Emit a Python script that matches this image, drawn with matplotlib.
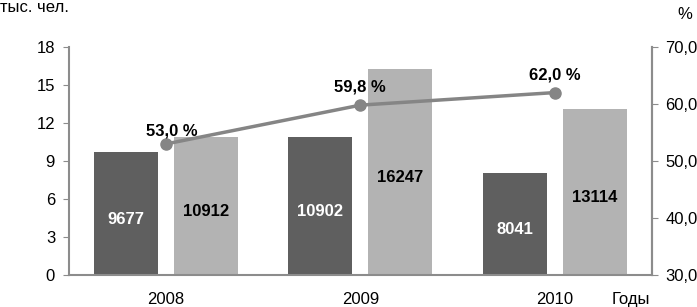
import matplotlib
matplotlib.use("Agg")
import matplotlib.pyplot as plt
import numpy as np

plt.rcParams['font.family'] = ['Liberation Sans', 'DejaVu Sans']

years = ["2008", "2009", "2010"]
series_dark = [9677, 10902, 8041]
series_light = [10912, 16247, 13114]
percent = [53.0, 59.8, 62.0]
percent_labels = ["53,0 %", "59,8 %", "62,0 %"]
left_ticks = [0, 3, 6, 9, 12, 15, 18]
right_ticks = [30, 40, 50, 60, 70]
right_tick_labels = ["30,0", "40,0", "50,0", "60,0", "70,0"]

dark = "#5f5f5f"
light = "#b3b3b3"
axis_col = "#8c8c8c"
line_col = "#858585"

fig = plt.figure(figsize=(6.97, 3.07), dpi=100)
ax = fig.add_axes([0.099, 0.104, 0.836, 0.743])
x = np.arange(len(years))
w = 0.33
off = 0.206
dv = np.array(series_dark) / 1000.0
lv = np.array(series_light) / 1000.0
ax.bar(x - off, dv, w, color=dark, zorder=2)
ax.bar(x + off, lv, w, color=light, zorder=2)
for xi, v, s in zip(x, dv, series_dark):
    ax.text(xi - off, v / 2 - 0.45, str(s), ha='center', va='center', color='white',
            fontsize=12, fontweight='bold', zorder=5)
for xi, v, s in zip(x, lv, series_light):
    ax.text(xi + off, v / 2 - 0.45, str(s), ha='center', va='center', color='black',
            fontsize=12, fontweight='bold', zorder=5)

ax.set_xlim(-0.5, 2.5)
ax.set_ylim(0, 18)
ax.set_yticks(left_ticks)
ax.set_yticklabels([str(t) for t in left_ticks], fontsize=12)
ax.set_xticks(x)
ax.set_xticklabels(years, fontsize=12)
ax.tick_params(axis='x', length=0, pad=12)
ax.tick_params(axis='y', length=4, color=axis_col, pad=6)
for s in ['top']:
    ax.spines[s].set_visible(False)
for s in ['left', 'bottom', 'right']:
    ax.spines[s].set_color(axis_col)
    ax.spines[s].set_linewidth(1.5)

ax2 = ax.twinx()
ax2.set_ylim(30, 70)
ax2.set_yticks(right_ticks)
ax2.set_yticklabels(right_tick_labels, fontsize=12)
ax2.tick_params(axis='y', length=4, color=axis_col, pad=6)
for s in ['top', 'left', 'bottom']:
    ax2.spines[s].set_visible(False)
ax2.spines['right'].set_color(axis_col)
ax2.spines['right'].set_linewidth(1.5)
ax2.plot(x, percent, color=line_col, lw=2.5, marker='o', ms=8, zorder=4)
lbl_dx = [0.03, 0.0, 0.0]
lbl_dy = [2.3, 3.1, 3.0]
for xi, p, t, dx, dy in zip(x, percent, percent_labels, lbl_dx, lbl_dy):
    ax2.text(xi + dx, p + dy, t, ha='center', va='center', fontsize=12,
             fontweight='bold', color='black', zorder=6)

fig.text(0.0, 0.975, "тыс. чел.", ha='left', va='center', fontsize=12)
fig.text(0.982, 0.952, "%", ha='center', va='center', fontsize=12)
fig.text(0.905, 0.025, "Годы", ha='center', va='center', fontsize=12)

fig.savefig("out.png", dpi=100)
